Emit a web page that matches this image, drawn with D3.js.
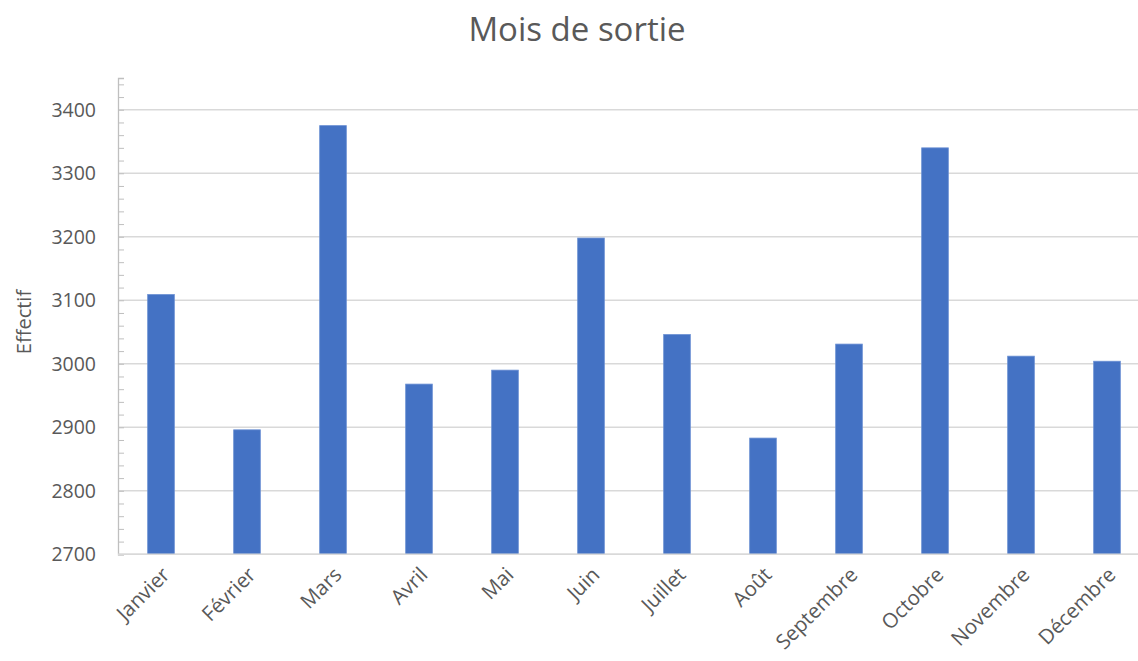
<!DOCTYPE html>
<html>
<head>
<meta charset="utf-8">
<script src="https://cdn.jsdelivr.net/npm/d3@7"></script>
<style>
  body { margin: 0; background: #fff; }
  text { font-family: "Open Sans", "Noto Sans", sans-serif; fill: #595959; }
</style>
</head>
<body>
<script>
// données
const mois = ["Janvier", "Février", "Mars", "Avril", "Mai", "Juin", "Juillet", "Août", "Septembre", "Octobre", "Novembre", "Décembre"];
const effectifs = [3109, 2896, 3375, 2968, 2990, 3198, 3046, 2883, 3031, 3340, 3012, 3004];
const yTicks = [2700, 2800, 2900, 3000, 3100, 3200, 3300, 3400];

const width = 1138;
const height = 661;

const svg = d3.select("body")
    .append("svg")
    .attr("width", width)
    .attr("height", height);

// echelles
const x = d3.scaleBand()
    .domain(mois)
    .range([118, 1150])
    .paddingInner(0.69)
    .paddingOuter(0.345);

const y = d3.scaleLinear()
    .domain([2700, 3450])
    .range([554.3, 78]);

// grille
svg.append("g")
    .selectAll("line")
    .data(yTicks)
    .enter()
    .append("line")
    .attr("x1", 118)
    .attr("x2", 1138)
    .attr("y1", d => y(d))
    .attr("y2", d => y(d))
    .attr("stroke", "#d9d9d9")
    .attr("stroke-width", 1.5);

// barres
svg.append("g")
    .selectAll("rect")
    .data(effectifs)
    .enter()
    .append("rect")
    .attr("x", (d, i) => x(mois[i]))
    .attr("y", d => y(d))
    .attr("width", x.bandwidth())
    .attr("height", d => y(2700) - y(d))
    .attr("fill", "#4472c4")
    .attr("stroke", "#6a8fd3")
    .attr("stroke-width", 0.8);

// axe y avec petites graduations
const minorTicks = d3.range(2700, 3450, 20);
const yAxis = d3.axisLeft(y)
    .tickValues(minorTicks)
    .tickSize(-6)
    .tickFormat("");

const gy = svg.append("g")
    .attr("transform", "translate(118,0)")
    .call(yAxis);
gy.select(".domain").attr("stroke", "#bfbfbf").attr("stroke-width", 1.3);
gy.selectAll(".tick line").attr("stroke", "#bfbfbf");

svg.append("g")
    .selectAll("text")
    .data(yTicks)
    .enter()
    .append("text")
    .attr("x", 96)
    .attr("y", d => y(d))
    .attr("dy", "0.35em")
    .attr("text-anchor", "end")
    .style("font-size", "19.5px")
    .text(d => d);

// axe x
svg.append("line")
    .attr("x1", 118)
    .attr("x2", 1138)
    .attr("y1", y(2700))
    .attr("y2", y(2700))
    .attr("stroke", "#d9d9d9")
    .attr("stroke-width", 1.5);

svg.append("g")
    .selectAll("text")
    .data(mois)
    .enter()
    .append("text")
    .attr("text-anchor", "end")
    .attr("transform", d => "translate(" + (x(d) + x.bandwidth() / 2 + 10) + ",576) rotate(-45)")
    .style("font-size", "20.5px")
    .text(d => d);

// titre
svg.append("text")
    .attr("x", 577)
    .attr("y", 41)
    .attr("text-anchor", "middle")
    .style("font-size", "33px")
    .text("Mois de sortie");

// titre axe y
svg.append("text")
    .attr("transform", "translate(31,322) rotate(-90)")
    .attr("text-anchor", "middle")
    .style("font-size", "20px")
    .text("Effectif");
</script>
</body>
</html>
